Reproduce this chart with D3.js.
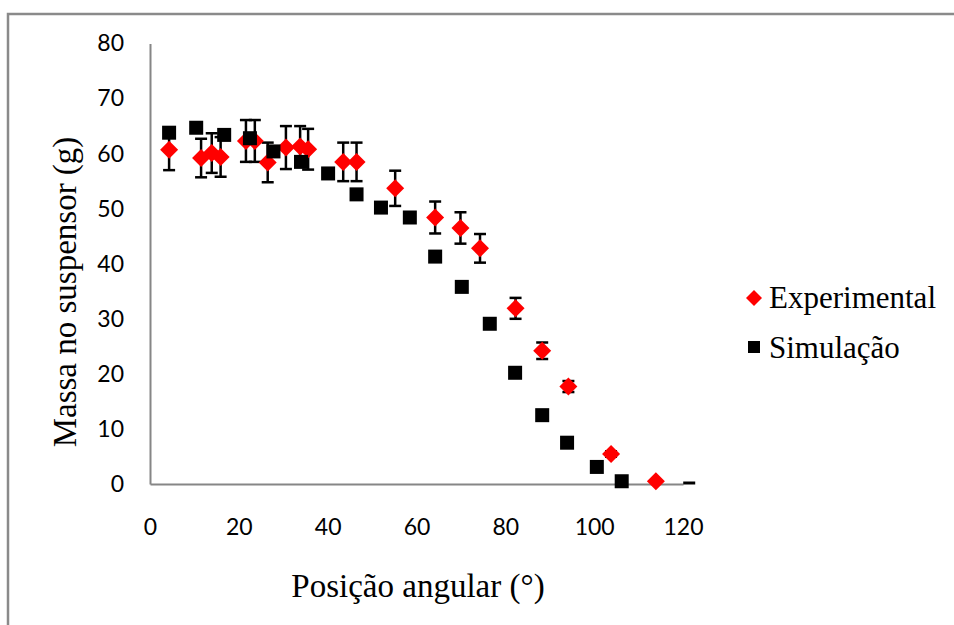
<!DOCTYPE html>
<html>
<head>
<meta charset="utf-8">
<script src="https://cdn.jsdelivr.net/npm/d3@7"></script>
<style>
  body { margin: 0; background: #fff; }
  svg { display: block; }
</style>
</head>
<body>
<svg id="chart" width="954" height="625"></svg>
<script>
// Experimental series: angular position (deg), mass (g), standard error (g)
const expAngle = [4.3, 11.5, 13.9, 15.9, 21.6, 23.6, 26.5, 30.6, 33.8, 35.6, 43.5, 46.5, 55.2, 64.2, 69.9, 74.3, 82.3, 88.3, 94.2, 103.8, 113.9];
const expMass  = [60.7, 59.2, 60.1, 59.4, 62.3, 62.3, 58.4, 61.1, 61.3, 60.8, 58.5, 58.5, 53.7, 48.4, 46.5, 42.8, 31.9, 24.2, 17.7, 5.45, 0.5];
const expError = [3.7, 3.5, 3.6, 3.6, 3.8, 3.8, 3.6, 3.9, 3.7, 3.7, 3.5, 3.5, 3.2, 2.9, 2.85, 2.6, 1.9, 1.5, 1.0, 0.5, 0];

// Simulated series
const simAngle = [4.3, 10.4, 16.7, 22.5, 27.8, 34.0, 40.1, 46.5, 52.0, 58.5, 64.2, 70.2, 76.5, 82.2, 88.3, 93.9, 100.6, 106.2];
const simMass  = [63.8, 64.7, 63.4, 62.8, 60.4, 58.5, 56.4, 52.6, 50.2, 48.4, 41.3, 35.8, 29.1, 20.2, 12.5, 7.5, 3.1, 0.5];

// Lone end cap at the end of the curve
const endCapAngle = [121.4];
const endCapMass = [0];

const xTicks = [0, 20, 40, 60, 80, 100, 120];
const yTicks = [0, 10, 20, 30, 40, 50, 60, 70, 80];
const seriesNames = ["Experimental", "Simulação"];
const xTitle = "Posição angular (°)";
const yTitle = "Massa no suspensor (g)";

const svg = d3.select("#chart");
const axisGrey = "#868686";
const serif = "'Liberation Serif', 'Times New Roman', serif";
const sans = "Lato, 'Open Sans', sans-serif";

const x = d3.scaleLinear().domain([0, 120]).range([150, 683]);
const y = d3.scaleLinear().domain([0, 80]).range([484, 43.5]);

// outer frame
svg.append("rect")
  .attr("x", 8).attr("y", 14)
  .attr("width", 1000).attr("height", 700)
  .attr("fill", "none").attr("stroke", "#8a8a8a").attr("stroke-width", 2.5);

// y axis
const gy = svg.append("g").attr("transform", `translate(${x(0)},0)`)
  .call(d3.axisLeft(y).tickValues(yTicks).tickSize(0).tickSizeOuter(0).tickPadding(26));
gy.select(".domain").attr("stroke", axisGrey).attr("stroke-width", 2);
gy.selectAll("text").attr("font-family", sans).attr("font-size", 23).attr("fill", "#000");

// x axis
const gx = svg.append("g").attr("transform", `translate(0,${y(0)})`)
  .call(d3.axisBottom(x).tickValues(xTicks).tickSize(0).tickSizeOuter(0).tickPadding(35));
gx.select(".domain").attr("stroke", axisGrey).attr("stroke-width", 2);
gx.selectAll("text").attr("font-family", sans).attr("font-size", 23).attr("fill", "#000");

// error bars
const expData = expAngle.map((a, i) => ({ a, m: expMass[i], e: expError[i] }));
const bars = svg.append("g").attr("stroke", "#000").attr("stroke-width", 2.5);
expData.filter(d => d.e > 0).forEach(d => {
  const cx = x(d.a), y1 = y(d.m - d.e), y2 = y(d.m + d.e);
  bars.append("line").attr("x1", cx).attr("x2", cx).attr("y1", y1).attr("y2", y2);
  bars.append("line").attr("x1", cx - 6).attr("x2", cx + 6).attr("y1", y1).attr("y2", y1);
  bars.append("line").attr("x1", cx - 6).attr("x2", cx + 6).attr("y1", y2).attr("y2", y2);
});

// end cap
svg.append("g").selectAll("line")
  .data(endCapAngle.map((a, i) => ({ a, m: endCapMass[i] })))
  .join("line")
  .attr("x1", d => x(d.a) - 6).attr("x2", d => x(d.a) + 6)
  .attr("y1", d => y(d.m) - 1).attr("y2", d => y(d.m) - 1)
  .attr("stroke", "#000").attr("stroke-width", 3);

// diamond markers
const diamond = r => `M0,${-r}L${r},0L0,${r}L${-r},0Z`;
svg.append("g").selectAll("path")
  .data(expData)
  .join("path")
  .attr("d", diamond(9))
  .attr("transform", d => `translate(${x(d.a)},${y(d.m)})`)
  .attr("fill", "#ff0000");

// square markers
const simData = simAngle.map((a, i) => ({ a, m: simMass[i] }));
svg.append("g").selectAll("rect")
  .data(simData)
  .join("rect")
  .attr("x", d => x(d.a) - 7).attr("y", d => y(d.m) - 7)
  .attr("width", 14).attr("height", 14)
  .attr("fill", "#000");

// legend
const legend = svg.append("g");
legend.append("path").attr("d", diamond(8)).attr("transform", "translate(754,298)").attr("fill", "#ff0000");
legend.append("rect").attr("x", 748).attr("y", 341).attr("width", 12).attr("height", 12).attr("fill", "#000");
legend.selectAll("text")
  .data(seriesNames)
  .join("text")
  .attr("x", 769)
  .attr("y", (d, i) => 308 + i * 50)
  .attr("font-family", serif).attr("font-size", 31).attr("fill", "#000")
  .text(d => d);

// axis titles
svg.append("text")
  .attr("x", 418).attr("y", 597)
  .attr("text-anchor", "middle")
  .attr("font-family", serif).attr("font-size", 33).attr("fill", "#000")
  .text(xTitle);

svg.append("text")
  .attr("transform", "translate(76,292) rotate(-90)")
  .attr("text-anchor", "middle")
  .attr("font-family", serif).attr("font-size", 33).attr("fill", "#000")
  .text(yTitle);
</script>
</body>
</html>
